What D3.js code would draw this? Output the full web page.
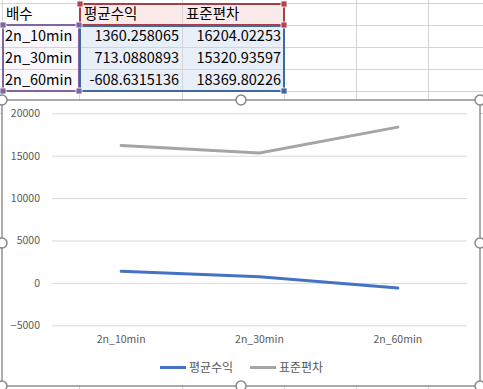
<!DOCTYPE html>
<html><head><meta charset="utf-8">
<script src="https://cdn.jsdelivr.net/npm/d3@7"></script>
<style>
html,body{margin:0;padding:0;background:#fff;overflow:hidden}
svg{display:block}
</style></head>
<body>
<svg id="c" width="483" height="389"></svg>
<script>
const categories = ["2n_10min", "2n_30min", "2n_60min"];
const seriesNames = ["평균수익", "표준편차"];
const avgReturn = [1360.258065, 713.0880893, -608.6315136];
const stdDev = [16204.02253, 15320.93597, 18369.80226];
const yTicks = [-5000, 0, 5000, 10000, 15000, 20000];
const headerLabel = "배수";

const svg = d3.select("#c");
const FONT = "'Noto Sans CJK KR','Noto Sans',sans-serif";

// ---- spreadsheet background ----
const colX = [2, 79, 182, 284, 356, 428, 500];
const rowY = [3, 25, 47, 69, 91, 113];
const grid = svg.append("g").attr("stroke", "#d4d4d4").attr("stroke-width", 1);
colX.forEach(x => grid.append("line").attr("x1", x + 0.5).attr("x2", x + 0.5).attr("y1", 0).attr("y2", 389));
rowY.forEach(y => grid.append("line").attr("x1", 0).attr("x2", 483).attr("y1", y + 0.5).attr("y2", y + 0.5));

// fills
svg.append("rect").attr("x", 80).attr("y", 4).attr("width", 204).attr("height", 21).attr("fill", "#fbeaea");
svg.append("rect").attr("x", 80).attr("y", 26).attr("width", 204).attr("height", 65).attr("fill", "#e9eff9");
svg.append("rect").attr("x", 3).attr("y", 26).attr("width", 76).attr("height", 65).attr("fill", "#faf8fc");
// re-draw inner grid over fills
const ig = svg.append("g").attr("stroke", "#d4d4d4");
[182].forEach(x => ig.append("line").attr("x1", x + 0.5).attr("x2", x + 0.5).attr("y1", 3).attr("y2", 91));
[47, 69].forEach(y => ig.append("line").attr("x1", 2).attr("x2", 284).attr("y1", y + 0.5).attr("y2", y + 0.5));

// cell text
const cellFont = 14.5;
const txt = svg.append("g").attr("font-family", FONT).attr("font-size", cellFont).attr("fill", "#000");
txt.append("text").attr("x", 6).attr("y", 19).text(headerLabel);
txt.append("text").attr("x", 84).attr("y", 19).text(seriesNames[0]);
txt.append("text").attr("x", 186).attr("y", 19).text(seriesNames[1]);
categories.forEach((c, i) => {
  const y = rowY[i + 1] + 16;
  txt.append("text").attr("x", 5).attr("y", y).text(c);
  txt.append("text").attr("x", 179).attr("y", y).attr("text-anchor", "end").text(String(avgReturn[i]));
  txt.append("text").attr("x", 281).attr("y", y).attr("text-anchor", "end").text(String(stdDev[i]));
});

// selection borders
function box(x, y, w, h, col) {
  svg.append("rect").attr("x", x).attr("y", y).attr("width", w).attr("height", h)
    .attr("fill", "none").attr("stroke", col).attr("stroke-width", 2);
}
box(3, 25, 76, 66, "#8064a2");
box(80, 4, 204, 21, "#a5404b");
box(80, 26, 204, 65, "#3f6aa0");
function sq(x, y, col) {
  svg.append("rect").attr("x", x - 3).attr("y", y - 3).attr("width", 6).attr("height", 6)
    .attr("fill", col).attr("stroke", "#fff").attr("stroke-width", 0.8);
}
sq(3, 25, "#8064a2"); sq(79, 25, "#8064a2"); sq(3, 91, "#8064a2"); sq(79, 91, "#8064a2");
sq(80, 4, "#b14350"); sq(284, 4, "#b14350"); sq(284, 25, "#b14350");
sq(284, 91, "#3f6aa0");

// ---- chart ----
const cx0 = 2, cy0 = 100, cx1 = 480, cy1 = 386;
svg.append("rect").attr("x", cx0).attr("y", cy0).attr("width", cx1 - cx0).attr("height", cy1 - cy0)
  .attr("fill", "#fff").attr("stroke", "#7f7f7f").attr("stroke-width", 1.3);

const x = d3.scaleBand().domain(categories).range([52, 467]);
const y = d3.scaleLinear().domain([-5000, 20000]).range([325.3, 113.3]);

const gy = svg.append("g").attr("transform", "translate(52,0)")
  .call(d3.axisLeft(y).tickValues(yTicks).tickSize(-415).tickPadding(12).tickFormat(d3.format("d")));
gy.select(".domain").remove();
gy.selectAll(".tick line").attr("stroke", "#d9d9d9");
gy.selectAll(".tick text").attr("fill", "#595959").attr("font-family", FONT).attr("font-size", 10.5);

const gx = svg.append("g").attr("transform", "translate(0,325.3)")
  .call(d3.axisBottom(x).tickSize(0).tickPadding(10));
gx.select(".domain").remove();
gx.selectAll(".tick text").attr("fill", "#595959").attr("font-family", FONT).attr("font-size", 10.5);

const line = d3.line().x((d, i) => x(categories[i]) + x.bandwidth() / 2).y(d => y(d));
svg.append("path").datum(stdDev).attr("d", line).attr("fill", "none")
  .attr("stroke", "#a5a5a5").attr("stroke-width", 3).attr("stroke-linecap", "round");
svg.append("path").datum(avgReturn).attr("d", line).attr("fill", "none")
  .attr("stroke", "#4472c4").attr("stroke-width", 3).attr("stroke-linecap", "round");

// legend
const leg = svg.append("g").attr("font-family", FONT).attr("font-size", 12).attr("fill", "#595959");
const legItems = [{n: seriesNames[0], c: "#4472c4", x: 160}, {n: seriesNames[1], c: "#a5a5a5", x: 250}];
legItems.forEach(it => {
  leg.append("line").attr("x1", it.x).attr("x2", it.x + 26).attr("y1", 367.5).attr("y2", 367.5)
    .attr("stroke", it.c).attr("stroke-width", 3);
  leg.append("text").attr("x", it.x + 29).attr("y", 372).text(it.n);
});

// handles
const hs = [[cx0, cy0], [241, cy0], [cx1, cy0], [cx0, 243], [cx1, 243], [cx0, cy1], [241, cy1], [cx1, cy1]];
svg.selectAll("circle.h").data(hs).enter().append("circle")
  .attr("cx", d => d[0]).attr("cy", d => d[1]).attr("r", 5)
  .attr("fill", "#fff").attr("stroke", "#8a8a8a").attr("stroke-width", 1.5);
</script>
</body></html>
